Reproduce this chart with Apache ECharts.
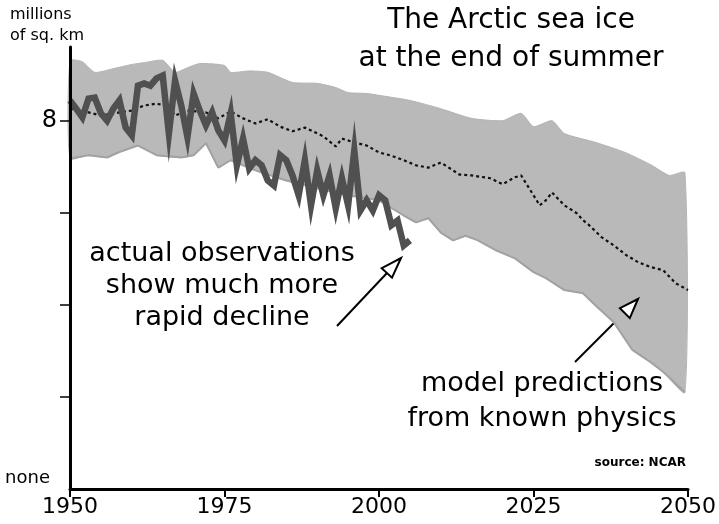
<!DOCTYPE html>
<html>
<head>
<meta charset="utf-8">
<script src="https://cdn.jsdelivr.net/npm/echarts@6/dist/echarts.min.js"></script>
<style>
html,body{margin:0;padding:0;background:#fff;}
#chart{width:719px;height:524px;}
</style>
</head>
<body>
<div id="chart"></div>
<script>
// ---- data (millions of sq. km) ----
var obsYears = [1950,1951,1952,1953,1954,1955,1956,1957,1958,1959,1960,1961,1962,1963,1964,1965,1966,1967,1968,1969,1970,1971,1972,1973,1974,1975,1976,1977,1978,1979,1980,1981,1982,1983,1984,1985,1986,1987,1988,1989,1990,1991,1992,1993,1994,1995,1996,1997,1998,1999,2000,2001,2002,2003,2004,2005];
var obsValues = [8.44,8.26,8.07,8.48,8.50,8.16,8.00,8.26,8.44,7.85,7.68,8.76,8.81,8.76,8.92,8.98,7.72,8.87,8.33,7.64,8.59,8.22,7.90,8.18,7.79,7.57,8.16,7.03,7.61,6.96,7.14,7.03,6.70,6.59,7.25,7.14,6.81,6.38,7.14,6.16,6.92,6.38,6.81,6.10,6.75,6.16,7.35,6.05,6.27,6.05,6.38,6.27,5.73,5.83,5.29,5.40];

var meanYears = [1950,1953,1955,1958,1960,1962,1964,1966,1967,1969,1972,1974,1976,1978,1980,1982,1984,1986,1988,1991,1993,1994,1996,1998,2000,2002,2004,2006,2008,2010,2012,2013,2015,2018,2020,2022,2023,2025,2026,2027,2028,2030,2032,2033,2034,2036,2038,2040,2042,2044,2046,2048,2050];
var meanValues = [8.26,8.18,8.11,8.18,8.22,8.33,8.37,8.31,8.11,8.22,8.18,8.05,8.20,8.05,7.94,8.03,7.87,7.77,7.85,7.66,7.44,7.61,7.53,7.46,7.31,7.24,7.14,7.03,6.98,7.09,6.92,6.83,6.81,6.75,6.62,6.77,6.81,6.38,6.16,6.27,6.44,6.16,5.99,5.84,5.73,5.47,5.29,5.08,4.92,4.82,4.75,4.47,4.32];

var bandTopYears = [1950,1952,1954,1957,1960,1962,1965,1967,1969,1971,1975,1976,1979,1982,1986,1990,1993,1995,1998,2000,2005,2010,2015,2020,2023,2025,2028,2030,2035,2040,2044,2047,2049.5];
var bandTopValues = [9.30,9.28,9.05,9.13,9.22,9.26,9.31,9.05,9.15,9.24,9.20,9.05,9.08,9.05,8.83,8.81,8.72,8.61,8.59,8.55,8.44,8.26,8.05,8.00,8.16,7.87,8.00,7.72,7.53,7.30,7.04,6.81,6.87];

var bandBottomYears = [1950,1953,1956,1958,1961,1964,1968,1970,1972,1974,1976,1980,1985,1990,1995,2000,2004,2006,2008,2010,2012,2014,2016,2019,2022,2025,2027,2030,2033,2035,2038,2041,2044,2046,2049.5];
var bandBottomValues = [7.18,7.25,7.20,7.32,7.46,7.25,7.20,7.25,7.51,6.98,7.14,6.92,6.70,6.53,6.38,6.27,5.94,5.79,5.88,5.57,5.40,5.50,5.40,5.18,5.01,4.71,4.58,4.32,4.25,3.99,3.62,3.02,2.75,2.54,2.10];

var xTickYears = [1950,1975,2000,2025,2050];
var yTickValues = [2,4,6,8];
var yLabelValues = [0,8];

function pairs(xs, ys){ return xs.map(function(x,i){ return [x, ys[i]]; }); }

var FONT = '"DejaVu Sans",sans-serif';

var chart = echarts.init(document.getElementById('chart'), null, {renderer:'canvas'});

var option = {
  animation: false,
  backgroundColor: '#ffffff',
  grid: {left:70, right:29, top:47, bottom:35, containLabel:false},
  xAxis: {
    type:'value', min:1950, max:2050, interval:25, z:10,
    axisLine:{show:true, lineStyle:{color:'#000', width:3}},
    axisTick:{show:true, length:8, lineStyle:{color:'#000', width:2}},
    splitLine:{show:false},
    axisLabel:{color:'#000', fontSize:22, fontFamily:FONT, margin:7,
      customValues: xTickYears, formatter:function(v){return String(v);}}
  },
  yAxis: {
    type:'value', min:0, max:9.6, z:10,
    axisLine:{show:true, lineStyle:{color:'#000', width:3}},
    axisTick:{show:true, length:10, lineStyle:{color:'#000', width:1.5}, customValues: yTickValues},
    splitLine:{show:false},
    axisLabel:{show:true, customValues: yLabelValues, margin:13,
      formatter:function(v){ return v===0 ? '{n|none}' : '{e|8}'; },
      rich:{
        n:{fontSize:18, fontFamily:FONT, color:'#000', padding:[0,7,22,0]},
        e:{fontSize:24, fontFamily:FONT, color:'#000'}
      }
    }
  },
  series: [
    {
      type:'custom', name:'model range', z:1, silent:true,
      data:[[1950, bandTopValues[0]]],
      renderItem:function(params, api){
        var top = bandTopYears.map(function(y,i){ return api.coord([y, bandTopValues[i]]); });
        var bot = bandBottomYears.map(function(y,i){ return api.coord([y, bandBottomValues[i]]); }).reverse();
        return {type:'polygon', shape:{points: top.concat(bot), smooth:0.2}, style:{fill:'#b9b9b9', stroke:'#b4b4b4', lineWidth:1}};
      }
    },
    {
      type:'line', name:'model low edge', z:2, silent:true,
      data: pairs(bandBottomYears, bandBottomValues),
      symbol:'none', lineStyle:{color:'#a2a2a2', width:2}
    },
    {
      type:'line', name:'model mean', z:3, silent:true,
      data: pairs(meanYears, meanValues),
      symbol:'none', lineStyle:{color:'#111', width:2.2, type:[3,3]}
    },
    {
      type:'line', name:'observations', z:4, silent:true,
      data: pairs(obsYears, obsValues),
      symbol:'none', lineStyle:{color:'#505050', width:6.5, join:'miter'}
    }
  ],
  graphic: [
    {type:'text', x:10, y:4, style:{text:'millions\nof sq. km', font:'16px '+FONT, lineHeight:21, fill:'#000'}},
    {type:'text', x:511, y:2, style:{text:'The Arctic sea ice\nat the end of summer', font:'28px '+FONT, lineHeight:38, fill:'#000', align:'center'}},
    {type:'text', x:222, y:238, style:{text:'actual observations\nshow much more\nrapid decline', font:'27px '+FONT, lineHeight:32, fill:'#000', align:'center'}},
    {type:'text', x:542, y:366, style:{text:'model predictions\nfrom known physics', font:'27px '+FONT, lineHeight:35, fill:'#000', align:'center'}},
    {type:'text', x:686, y:457, style:{text:'source: NCAR', font:'bold 12px '+FONT, fill:'#000', align:'right'}},
    {type:'line', shape:{x1:337, y1:326, x2:387, y2:273}, style:{stroke:'#000', lineWidth:2}},
    {type:'polygon', shape:{points:[[401,258],[392.0,277.7],[381.7,268.2]]}, style:{fill:'#fff', stroke:'#000', lineWidth:2}},
    {type:'line', shape:{x1:575, y1:362, x2:624, y2:313}, style:{stroke:'#000', lineWidth:2}},
    {type:'polygon', shape:{points:[[638,299],[629.8,318.1],[619.9,308.2]]}, style:{fill:'#fff', stroke:'#000', lineWidth:2}, z:100}
  ]
};
chart.setOption(option);
</script>
</body>
</html>
